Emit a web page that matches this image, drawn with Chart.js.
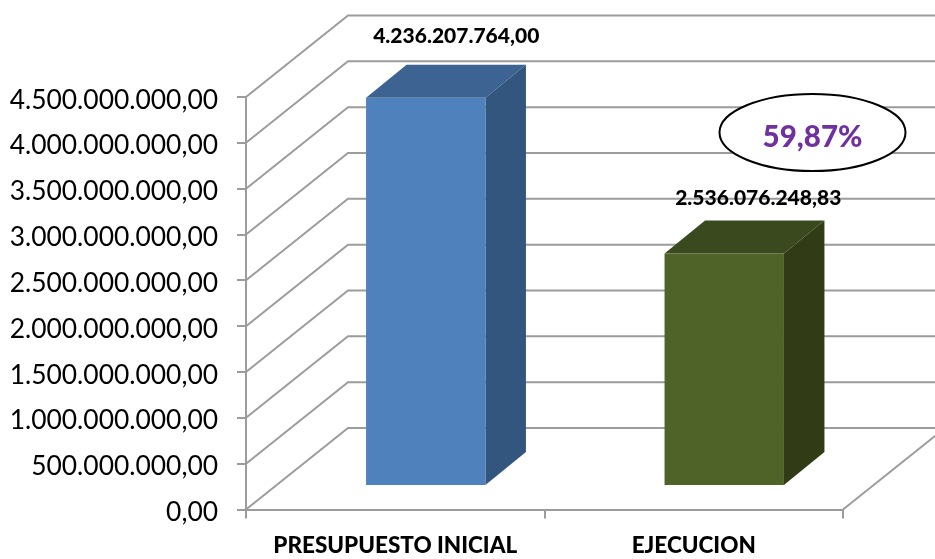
<!DOCTYPE html>
<html>
<head>
<meta charset="utf-8">
<style>
  body { margin: 0; background: #fff; }
</style>
</head>
<body>
<canvas id="myChart" width="935" height="559"></canvas>
<script src="https://cdn.jsdelivr.net/npm/chart.js@4"></script>
<script>
var categories = ["PRESUPUESTO INICIAL", "EJECUCION"];
var values = [4236207764.0, 2536076248.83];
var barColors = ["#4f81bd", "#4f6228"];
var topColors = ["#3d6392", "#3b491e"];
var sideColors = ["#33567f", "#313c17"];
var percentLabel = "59,87%";

var gridColor = "#9c9c9c";
var fontName = "Lato, 'Open Sans', sans-serif";
// depth of the box walls and of the bars, in pixels
var wallX = 102, wallY = -81.5;
var barShiftX = 30.5, barShiftY = -23.5;
var barDepthX = 40.5, barDepthY = -33;
// fine placement of the two value labels
var labelDx = [-10, -6.5];
var labelDy = [-28.5, -22.5];

function money(v) {
  return v.toLocaleString("de-DE", { minimumFractionDigits: 2, maximumFractionDigits: 2 });
}

function face(ctx, pts, color) {
  ctx.fillStyle = color;
  ctx.beginPath();
  ctx.moveTo(pts[0][0], pts[0][1]);
  for (let i = 1; i < pts.length; i++) ctx.lineTo(pts[i][0], pts[i][1]);
  ctx.closePath();
  ctx.fill();
}

var box3d = {
  id: "box3d",
  beforeDatasetsDraw: function (chart) {
    var ctx = chart.ctx, x = chart.scales.x, y = chart.scales.y;
    // walls
    ctx.save();
    ctx.strokeStyle = gridColor;
    ctx.lineWidth = 2;
    y.ticks.forEach(function (t) {
      var py = y.getPixelForValue(t.value);
      ctx.beginPath();
      ctx.moveTo(x.left, py);
      ctx.lineTo(x.left + wallX, py + wallY);
      ctx.lineTo(chart.width, py + wallY);
      ctx.stroke();
    });
    ctx.beginPath();
    ctx.moveTo(x.right, y.bottom);
    ctx.lineTo(x.right + wallX, y.bottom + wallY);
    ctx.stroke();
    ctx.restore();

    // bars are moved into the middle of the box depth
    ctx.save();
    ctx.translate(barShiftX, barShiftY);
    chart.getDatasetMeta(0).data.forEach(function (bar, i) {
      var l = bar.x - bar.width / 2, r = bar.x + bar.width / 2;
      var t = bar.y, b = bar.base;
      face(ctx, [[l, t], [r, t], [r + barDepthX, t + barDepthY], [l + barDepthX, t + barDepthY]], topColors[i]);
      face(ctx, [[r, t], [r, b], [r + barDepthX, b + barDepthY], [r + barDepthX, t + barDepthY]], sideColors[i]);
    });
  },
  afterDatasetsDraw: function (chart) {
    var ctx = chart.ctx;
    ctx.restore();

    // value labels
    ctx.save();
    ctx.fillStyle = "#000";
    ctx.font = "900 21px " + fontName;
    ctx.textAlign = "center";
    ctx.textBaseline = "middle";
    chart.getDatasetMeta(0).data.forEach(function (bar, i) {
      ctx.fillText(money(values[i]),
        bar.x + barShiftX + barDepthX + labelDx[i],
        bar.y + barShiftY + barDepthY + labelDy[i]);
    });

    // ellipse note
    ctx.fillStyle = "#fff";
    ctx.strokeStyle = "#000";
    ctx.lineWidth = 2;
    ctx.beginPath();
    ctx.ellipse(812.5, 132.5, 93, 38.5, 0, 0, Math.PI * 2);
    ctx.fill();
    ctx.stroke();
    ctx.fillStyle = "#7030a0";
    ctx.font = "900 29.5px " + fontName;
    ctx.fillText(percentLabel, 812.5, 137);
    ctx.restore();
  },
};

new Chart(document.getElementById("myChart").getContext("2d"), {
  type: "bar",
  data: {
    labels: categories,
    datasets: [
      {
        data: values,
        backgroundColor: barColors,
        barPercentage: 0.4,
        categoryPercentage: 1,
        clip: false,
      },
    ],
  },
  options: {
    responsive: false,
    animation: false,
    layout: { padding: { top: 97, right: 92, left: 0, bottom: 0 } },
    plugins: { legend: { display: false }, tooltip: { enabled: false } },
    scales: {
      x: {
        afterFit: function (scale) { scale.height = 49.5; },
        grid: { offset: true, drawOnChartArea: false, color: gridColor, lineWidth: 2, tickLength: 9 },
        border: { color: gridColor, width: 2 },
        ticks: { color: "#000", font: { family: fontName, size: 22.5, weight: "900" }, padding: 14, maxRotation: 0 },
      },
      y: {
        min: 0,
        max: 4500000000,
        afterFit: function (scale) { scale.width = 246; },
        grid: { drawOnChartArea: false, color: gridColor, lineWidth: 2, tickLength: 9 },
        border: { color: gridColor, width: 2 },
        ticks: {
          stepSize: 500000000,
          color: "#000",
          padding: 19,
          labelOffset: 3,
          font: { family: fontName, size: 26.4 },
          callback: function (v) { return money(v); },
        },
      },
    },
  },
  plugins: [box3d],
});
</script>
</body>
</html>
